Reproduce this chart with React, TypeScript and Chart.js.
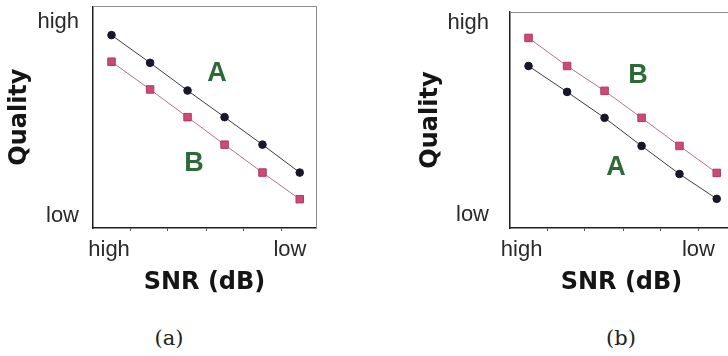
import React, { useEffect, useRef } from 'react';
import { Chart, registerables } from 'chart.js';

Chart.register(...registerables);

// ---- data ----
const xPositions = [0.83, 2.56, 4.24, 5.9, 7.6, 9.27];
const panelASeriesA = [8.7, 7.45, 6.2, 5.0, 3.76, 2.5];
const panelASeriesB = [7.5, 6.25, 5.0, 3.76, 2.5, 1.3];
const panelBSeriesA = [7.5, 6.3, 5.1, 3.8, 2.5, 1.35];
const panelBSeriesB = [8.8, 7.5, 6.35, 5.1, 3.8, 2.55];
const seriesNames = ['A', 'B'];
const xTickLabels = ['high', 'low'];
const yTickLabels = ['low', 'high'];
const panelAXLabelAt = [0.72, 8.83];
const panelBXLabelAt = [0.52, 8.45];
const panelAYLabelAt = [0.54, 9.3];
const panelBYLabelAt = [0.6, 9.49];
const xMinorTicks = [1.7, 3.32, 5.08, 6.77, 8.45];
const panelANameAt = [[5.56, 6.95], [4.53, 2.91]];
const panelBNameAt = [[4.75, 2.78], [5.74, 7.05]];
const captions = ['(a)', '(b)'];

const TITLE_FONT = { family: '"DejaVu Sans", sans-serif', size: 24, weight: 'bold' as const };
const TICK_FONT = { family: '"Liberation Sans", Arial, sans-serif', size: 22 };

const seriesNamePlugin = {
  id: 'seriesNames',
  afterDatasetsDraw(chart: any, _args: any, opts: any) {
    const { ctx, scales } = chart;
    ctx.save();
    ctx.font = 'bold 27px "Liberation Sans", Arial, sans-serif';
    ctx.fillStyle = '#2d6a36';
    ctx.textAlign = 'center';
    ctx.textBaseline = 'middle';
    (opts.items || []).forEach((it: any) => {
      ctx.fillText(it.text, scales.x.getPixelForValue(it.x), scales.y.getPixelForValue(it.y));
    });
    ctx.restore();
  },
};

type Panel = {
  a: number[];
  b: number[];
  xLabelAt: number[];
  yLabelAt: number[];
  nameAt: number[][];
  yAxisWidth: number;
  yTickPad: number;
  yTitlePad: number;
  padding: { left: number; top: number; right: number; bottom: number };
};

function clearPads(s: any) {
  s.paddingTop = 0;
  s.paddingBottom = 0;
  s.paddingLeft = 0;
  s.paddingRight = 0;
}

function buildConfig(p: Panel): any {
  const xTicks = [
    ...p.xLabelAt.map((v, i) => ({ value: v, label: xTickLabels[i] })),
    ...xMinorTicks.map((v) => ({ value: v, label: '' })),
  ].sort((m, n) => m.value - n.value);

  const frameScale = (position: string, horizontal: boolean) => ({
    type: 'linear',
    position,
    min: 0,
    max: 10,
    ticks: { display: false },
    grid: { display: true, drawOnChartArea: false, drawTicks: false },
    border: { display: true, color: '#8c8c8c', width: 1, dash: [2, 2] },
    afterFit: (s: any) => {
      if (horizontal) s.height = 0;
      else s.width = 0;
      clearPads(s);
    },
  });

  return {
    type: 'line',
    data: {
      datasets: [
        {
          label: seriesNames[0],
          data: xPositions.map((x, i) => ({ x, y: p.a[i] })),
          borderColor: '#3a3a40',
          borderWidth: 1,
          pointStyle: 'circle',
          pointRadius: 3.8,
          pointBackgroundColor: '#16172a',
          pointBorderColor: '#16172a',
          pointBorderWidth: 1,
          tension: 0,
          fill: false,
        },
        {
          label: seriesNames[1],
          data: xPositions.map((x, i) => ({ x, y: p.b[i] })),
          borderColor: '#b8708a',
          borderWidth: 1,
          pointStyle: 'rect',
          pointRadius: 5.3,
          pointBackgroundColor: '#cc4a74',
          pointBorderColor: '#b03a62',
          pointBorderWidth: 1,
          tension: 0,
          fill: false,
        },
      ],
    },
    options: {
      animation: false,
      responsive: false,
      devicePixelRatio: 1,
      layout: { padding: p.padding },
      plugins: {
        legend: { display: false },
        tooltip: { enabled: false },
        seriesNames: {
          items: seriesNames.map((t, i) => ({ text: t, x: p.nameAt[i][0], y: p.nameAt[i][1] })),
        },
      },
      scales: {
        x: {
          type: 'linear',
          position: 'bottom',
          min: 0,
          max: 10,
          afterBuildTicks: (s: any) => {
            s.ticks = xTicks.map((t) => ({ value: t.value }));
          },
          afterFit: (s: any) => {
            s.height = 69;
            clearPads(s);
          },
          ticks: {
            autoSkip: false,
            maxRotation: 0,
            minRotation: 0,
            padding: 6,
            color: '#2a2a2a',
            font: TICK_FONT,
            callback: (_v: any, i: number) => xTicks[i].label,
          },
          grid: {
            display: true,
            drawOnChartArea: false,
            drawTicks: true,
            tickLength: 3,
            tickWidth: 1,
            tickColor: (ctx: any) => (xTicks[ctx.index] && xTicks[ctx.index].label ? 'rgba(0,0,0,0)' : '#555'),
          },
          border: { display: true, color: '#1e1e1e', width: 1.5 },
          title: { display: true, text: 'SNR (dB)', font: TITLE_FONT, color: '#151515', padding: 0 },
        },
        y: {
          type: 'linear',
          position: 'left',
          min: 0,
          max: 10,
          afterBuildTicks: (s: any) => {
            s.ticks = p.yLabelAt.map((v) => ({ value: v }));
          },
          afterFit: (s: any) => {
            s.width = p.yAxisWidth;
            clearPads(s);
          },
          ticks: {
            autoSkip: false,
            padding: p.yTickPad,
            color: '#2a2a2a',
            font: TICK_FONT,
            callback: (_v: any, i: number) => yTickLabels[i],
          },
          grid: { display: true, drawOnChartArea: false, drawTicks: false },
          border: { display: true, color: '#1e1e1e', width: 1.5 },
          title: {
            display: true,
            text: 'Quality',
            font: TITLE_FONT,
            color: '#151515',
            padding: { top: p.yTitlePad, bottom: 0 },
          },
        },
        x2: frameScale('top', true),
        y2: frameScale('right', false),
      },
    },
    plugins: [seriesNamePlugin],
  };
}

const panelA: Panel = {
  a: panelASeriesA,
  b: panelASeriesB,
  xLabelAt: panelAXLabelAt,
  yLabelAt: panelAYLabelAt,
  nameAt: panelANameAt,
  yAxisWidth: 93,
  yTickPad: 14,
  yTitlePad: 5,
  padding: { left: 0, top: 5, right: 48, bottom: 3 },
};

const panelB: Panel = {
  a: panelBSeriesA,
  b: panelBSeriesB,
  xLabelAt: panelBXLabelAt,
  yLabelAt: panelBYLabelAt,
  nameAt: panelBNameAt,
  yAxisWidth: 100,
  yTickPad: 21,
  yTitlePad: 6,
  padding: { left: 0, top: 12, right: 7, bottom: 3 },
};

function ChartCanvas({ panel, width, height }: { panel: Panel; width: number; height: number }) {
  const ref = useRef<HTMLCanvasElement | null>(null);
  useEffect(() => {
    if (!ref.current) return;
    const chart = new Chart(ref.current, buildConfig(panel));
    return () => chart.destroy();
  }, [panel]);
  return <canvas ref={ref} width={width} height={height} style={{ width, height, display: 'block' }} />;
}

const captionStyle: React.CSSProperties = {
  position: 'absolute',
  top: 327,
  width: 80,
  textAlign: 'center',
  font: '21px "DejaVu Serif", "Liberation Serif", serif',
  lineHeight: '22px',
  color: '#222',
};

export default function App() {
  return (
    <div
      style={{
        position: 'absolute',
        left: 0,
        top: 0,
        width: 728,
        height: 356,
        overflow: 'hidden',
        background: '#ffffff',
      }}
    >
      <div style={{ position: 'absolute', left: 0, top: 0 }}>
        <ChartCanvas panel={panelA} width={364} height={300} />
      </div>
      <div style={{ position: 'absolute', left: 410, top: 0 }}>
        <ChartCanvas panel={panelB} width={330} height={300} />
      </div>
      <div style={{ ...captionStyle, left: 129 }}>{captions[0]}</div>
      <div style={{ ...captionStyle, left: 581 }}>{captions[1]}</div>
    </div>
  );
}
